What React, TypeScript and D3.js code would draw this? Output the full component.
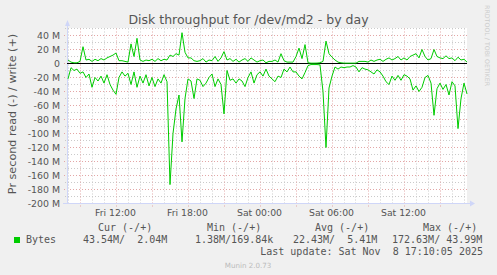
import React from "react";
import * as d3 from "d3";

const WIDTH = 497;
const HEIGHT = 275;

const title = "Disk throughput for /dev/md2 - by day";
const yAxisTitle = "Pr second read (-) / write (+)";
const startTime = new Date(2025, 10, 7, 7, 57, 30);
const endTime = new Date(startTime.getTime() + 400 * 5 * 60 * 1000);
const stepMinutes = 15;

// write (+) in MB/s
const writeM = [
  5, 2, 1, 1, 3, 24, 5, 6, 3, 6,
  4, 7, 5, 8, 10, 12, 15, 4, 4, 3,
  2, 28, 10, 36, 5, 3, 5, 4, 6, 3,
  7, 4, 6, 5,
  12, 10, 14, 12, 44, 16,
  8, 8, 4, 3, 4, 7, 2, 5, 4, 10,
  3, 8, 17, 5, 7, 3, 6, 2, 5, 7,
  3, 8, 5, 2, 4, 5, 1,
  3, 3, 5,
  2, 14, 4, 2, 2, 2, 10, 22, 7, 27,
  1, 0.5, 0.5, 0.6, 1, 3, 32, 14, 9, 5,
  2, 1, 0.5, 0.5, 0.5, 0.5, 0.5, 3, 3, 3,
  2, 5, 3, 5, 6, 3, 6, 8, 5, 7,
  10, 5, 8, 5, 10, 12, 14, 8, 20, 10,
  5, 7, 20, 10, 8, 7, 11, 7, 8, 4,
  9, 5, 6, 2,
];

// read (-) in MB/s (drawn negative)
const readM = [
  22, 6, 10, 8, 14, 12, 20, 15, 34, 20,
  25, 18, 28, 16, 30, 38, 44, 20, 12, 18,
  14, 30, 12, 34, 18, 28, 16, 32, 20, 33,
  22, 28, 16, 26,
  173, 100, 65, 45, 112, 50,
  22, 25, 50, 22, 24, 33, 28, 20, 15, 33,
  22, 30, 72, 10, 24, 22, 28, 22, 25, 33,
  20, 12, 28, 16, 12, 18, 8,
  18, 22, 26,
  18, 20, 8, 12, 5, 12, 12, 18, 22, 13,
  3, 1.5, 1.5, 1.5, 2, 40, 120, 35, 18, 5,
  8, 5, 6, 5, 5, 3, 5, 12, 6, 8,
  9, 12, 15, 9, 12, 18, 26, 30, 18, 24,
  17, 24, 16, 18, 22, 38, 32, 40, 34, 20,
  17, 28, 74, 36, 28, 37, 30, 45, 26, 32,
  93, 50, 28, 43.5,
];

const yTicks = [40, 20, 0, -20, -40, -60, -80, -100, -120, -140, -160, -180, -200];
const legendHeaders = ["Cur (-/+)", "Min (-/+)", "Avg (-/+)", "Max (-/+)"];
const legendValues = ["43.54M/  2.04M", "1.38M/169.84k", "22.43M/  5.41M", "172.63M/ 43.99M"];
const legendName = "Bytes";
const lastUpdate = "Last update: Sat Nov  8 17:10:05 2025";
const version = "Munin 2.0.73";
const sideText = "RRDTOOL / TOBI OETIKER";

const headerX = [98, 207, 315, 423];
const valueX = [83, 195, 293, 392];

const GREEN = "#00CC00";
const FONT = "#555555";
const AXIS = "#CFD6F8";
const MGRID = "#E3A6A6";
const GRID = "#CACACA";

export default function App() {
  const left = 67;
  const right = 467;
  const top = 28.5;
  const bottom = 203.5;

  const x = d3.scaleTime().domain([startTime, endTime]).range([left, right]);
  const y = d3.scaleLinear().domain([-200, 50]).range([bottom, top]);

  const times = writeM.map((_, i) => new Date(startTime.getTime() + i * stepMinutes * 60000 + 5 * 60000));
  const line = d3
    .line<[Date, number]>()
    .x((d) => x(d[0]))
    .y((d) => y(d[1]));

  const writePath = line(times.map((t, i) => [t, writeM[i]] as [Date, number])) || "";
  const readPath = line(times.map((t, i) => [t, -readM[i]] as [Date, number])) || "";

  const majorV = d3.timeHour.every(3)!.range(startTime, endTime);
  const minorV = d3.timeHour.every(1)!.range(startTime, endTime).filter((d) => d.getHours() % 3 !== 0);
  const labelTicks = d3.timeHour.every(6)!.range(startTime, endTime);
  const fmt = d3.timeFormat("%a %H:%M");

  const majorH = d3.range(-200, 41, 20);
  const minorH = d3.range(-190, 51, 20);

  const snap = (v: number) => Math.round(v) + 0.5;

  return (
    <svg
      width={WIDTH}
      height={HEIGHT}
      style={{ position: "absolute", left: 0, top: 0, display: "block" }}
      fontFamily="DejaVu Sans"
    >
      <rect x={0} y={0} width={WIDTH} height={HEIGHT} fill="#F0F0F0" />
      <rect x={left} y={top - 0.5} width={right - left} height={bottom - top + 0.5} fill="#FFFFFF" />

      {/* minor grid */}
      {minorH.map((v) => (
        <line key={"mh" + v} x1={left - 2} x2={right} y1={y(v)} y2={y(v)} stroke={GRID} strokeDasharray="1,2" />
      ))}
      {minorV.map((t, i) => (
        <line key={"mv" + i} x1={snap(x(t))} x2={snap(x(t))} y1={top} y2={bottom + 2} stroke={GRID} strokeDasharray="1,2" />
      ))}
      {/* major grid */}
      {majorH.map((v) => (
        <line key={"Mh" + v} x1={left - 3} x2={right} y1={y(v)} y2={y(v)} stroke={MGRID} strokeDasharray="1,2" />
      ))}
      {majorV.map((t, i) => (
        <line key={"Mv" + i} x1={snap(x(t))} x2={snap(x(t))} y1={top} y2={bottom + 3} stroke={MGRID} strokeDasharray="1,2" />
      ))}

      {/* axes */}
      <line x1={left + 0.5} x2={left + 0.5} y1={bottom} y2={24} stroke={AXIS} />
      <path d={`M${left - 2},${26} L${left + 3},${26} L${left + 0.5},${20} Z`} fill={AXIS} />
      <line x1={left - 4} x2={right + 4} y1={bottom} y2={bottom} stroke={AXIS} />
      <path d={`M${right + 3},${bottom - 3} L${right + 3},${bottom + 3} L${right + 8},${bottom} Z`} fill={AXIS} />

      {/* zero rule */}
      <line x1={left} x2={right} y1={y(0)} y2={y(0)} stroke="#000000" strokeWidth={1} />

      {/* data */}
      <path d={writePath} fill="none" stroke={GREEN} strokeWidth={1} />
      <path d={readPath} fill="none" stroke={GREEN} strokeWidth={1} />

      {/* y tick labels */}
      {yTicks.map((v) => (
        <text key={"yt" + v} x={60} y={y(v) + 3.5} textAnchor="end" fontSize={9.4} fill={FONT}>
          {v === 0 ? "0" : `${v} M`}
        </text>
      ))}

      {/* x tick labels */}
      {labelTicks.map((t, i) => (
        <text key={"xt" + i} x={x(t)} y={215.5} textAnchor="middle" fontSize={9.3} fill={FONT}>
          {fmt(t)}
        </text>
      ))}

      {/* title */}
      <text x={248.5} y={23.5} textAnchor="middle" fontSize={12.5} fill={FONT}>
        {title}
      </text>

      {/* y axis title */}
      <text
        transform={`translate(15.5, ${114}) rotate(-90)`}
        textAnchor="middle"
        fontSize={11.2}
        fill={FONT}
      >
        {yAxisTitle}
      </text>

      {/* side text */}
      <text transform="translate(485, 5) rotate(90)" fontSize={6.3} fill="#CCCCCC">
        {sideText}
      </text>

      {/* legend */}
      <g fontFamily="DejaVu Sans Mono" fontSize={10} fill={FONT} style={{ whiteSpace: "pre" }}>
        {legendHeaders.map((h, i) => (
          <text key={"lh" + i} x={headerX[i]} y={230.5} xmlSpace="preserve">
            {h}
          </text>
        ))}
        <rect x={14} y={237} width={6} height={6} fill={GREEN} />
        <text x={26} y={242.5}>{legendName}</text>
        {legendValues.map((v, i) => (
          <text key={"lv" + i} x={valueX[i]} y={242.5} xmlSpace="preserve">
            {v}
          </text>
        ))}
        <text x={483} y={254.5} textAnchor="end" xmlSpace="preserve">
          {lastUpdate}
        </text>
      </g>

      <text x={248} y={267.5} textAnchor="middle" fontSize={7.1} fill="#BBBBBB">
        {version}
      </text>
    </svg>
  );
}
